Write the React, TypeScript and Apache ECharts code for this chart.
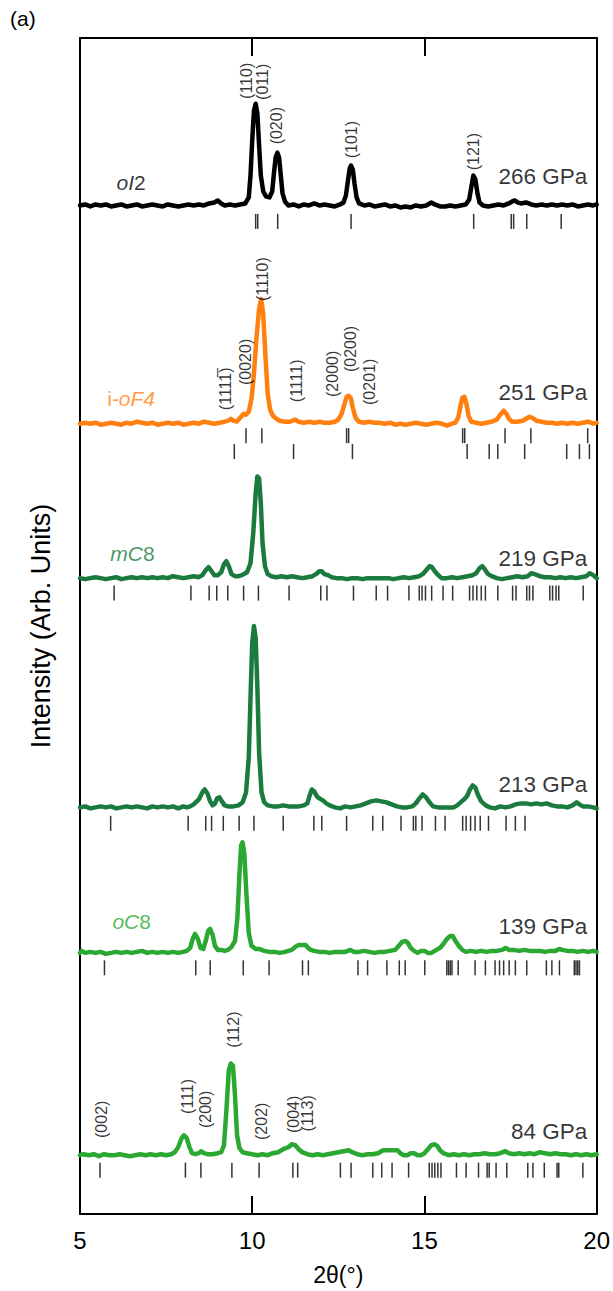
import React, { useEffect, useRef } from "react";
import * as echarts from "echarts";

// ---------- data ----------
// intensity traces: [2theta, intensity above own baseline]
const oI2_266: number[][] = [
  [5.0,0],[5.15,1],[5.3,-1],[5.45,1],[5.6,0],[5.75,1],[5.9,-1],[6.05,0],[6.2,1],[6.35,-1],[6.5,0],[6.65,1],[6.8,-1],[6.95,0],[7.1,1],[7.25,0],[7.4,-1],[7.55,1],[7.7,0],[7.85,-1],[8.0,0],[8.15,1],[8.3,0],[8.45,1],[8.6,0],[8.75,2],[8.9,3],[9.0,5],[9.1,2],[9.2,0],[9.35,1],[9.5,0],[9.65,1],[9.8,2],[9.9,8],[9.95,30],[10.0,65],[10.05,95],[10.1,102],[10.15,92],[10.2,60],[10.25,30],[10.32,14],[10.4,9],[10.5,8],[10.58,14],[10.63,32],[10.68,48],[10.73,53],[10.78,48],[10.83,30],[10.88,12],[10.95,4],[11.05,0],[11.2,1],[11.35,-1],[11.5,1],[11.65,0],[11.8,2],[11.95,0],[12.1,1],[12.25,0],[12.4,-1],[12.55,1],[12.65,3],[12.72,10],[12.78,25],[12.83,37],[12.87,40],[12.92,36],[12.97,22],[13.03,8],[13.1,2],[13.25,0],[13.4,1],[13.55,-1],[13.7,0],[13.85,1],[14.0,-1],[14.15,0],[14.3,-2],[14.45,-1],[14.6,-2],[14.75,0],[14.9,-1],[15.05,0],[15.15,2],[15.2,3],[15.3,1],[15.45,-1],[15.6,-1],[15.75,0],[15.9,-1],[16.05,0],[16.2,1],[16.3,6],[16.36,18],[16.42,30],[16.48,26],[16.54,12],[16.6,3],[16.7,0],[16.85,-1],[17.0,0],[17.15,1],[17.3,0],[17.45,2],[17.55,4],[17.62,5],[17.7,3],[17.8,2],[17.95,3],[18.1,1],[18.25,0],[18.4,1],[18.55,0],[18.7,1],[18.85,0],[19.0,1],[19.15,0],[19.3,1],[19.45,-1],[19.6,0],[19.75,1],[19.9,0],[20.0,1],
];
const ioF4_251: number[][] = [
  [5.0,0],[5.15,1],[5.3,0],[5.45,1],[5.6,-1],[5.75,0],[5.9,1],[6.05,0],[6.2,-1],[6.35,1],[6.5,0],[6.65,2],[6.8,1],[6.95,0],[7.1,1],[7.25,-1],[7.4,0],[7.55,1],[7.7,0],[7.85,1],[8.0,-1],[8.15,0],[8.3,1],[8.45,0],[8.6,2],[8.75,1],[8.9,0],[9.05,1],[9.2,2],[9.3,3],[9.38,5],[9.45,3],[9.55,2],[9.65,6],[9.75,10],[9.82,9],[9.9,12],[9.98,25],[10.05,50],[10.12,85],[10.2,115],[10.26,125],[10.32,110],[10.38,70],[10.45,30],[10.52,14],[10.6,8],[10.7,5],[10.8,3],[10.95,2],[11.1,2],[11.25,4],[11.35,2],[11.5,1],[11.65,2],[11.8,1],[11.95,2],[12.1,1],[12.25,1],[12.4,2],[12.5,4],[12.6,10],[12.68,20],[12.74,27],[12.8,28],[12.86,26],[12.92,16],[13.0,6],[13.1,2],[13.25,1],[13.4,2],[13.55,1],[13.7,1],[13.85,0],[14.0,1],[14.15,-1],[14.3,0],[14.45,-1],[14.6,0],[14.75,1],[14.9,0],[15.05,-1],[15.2,0],[15.35,1],[15.5,0],[15.65,-2],[15.8,0],[15.9,1],[15.98,6],[16.05,18],[16.1,26],[16.16,27],[16.22,20],[16.28,8],[16.36,2],[16.5,1],[16.65,0],[16.8,1],[16.95,2],[17.1,4],[17.2,9],[17.3,13],[17.38,10],[17.45,5],[17.55,2],[17.7,2],[17.85,3],[17.95,5],[18.05,7],[18.12,6],[18.25,3],[18.4,2],[18.55,1],[18.7,1],[18.85,0],[19.0,1],[19.15,0],[19.3,1],[19.45,0],[19.6,1],[19.75,2],[19.9,0],[20.0,1],
];
const mC8_219: number[][] = [
  [5.0,0],[5.15,-1],[5.3,0],[5.45,1],[5.6,0],[5.75,-1],[5.9,0],[6.05,1],[6.2,-1],[6.35,0],[6.5,1],[6.65,0],[6.8,1],[6.95,0],[7.1,1],[7.25,0],[7.4,1],[7.55,0],[7.7,2],[7.85,1],[8.0,0],[8.15,1],[8.3,2],[8.45,1],[8.55,3],[8.65,8],[8.73,11],[8.8,8],[8.9,3],[9.0,3],[9.1,6],[9.18,14],[9.25,17],[9.32,12],[9.4,4],[9.5,2],[9.6,2],[9.7,3],[9.85,6],[9.95,15],[10.03,45],[10.1,85],[10.15,102],[10.2,100],[10.25,75],[10.3,35],[10.37,12],[10.45,4],[10.55,2],[10.7,1],[10.85,2],[11.0,1],[11.15,2],[11.3,1],[11.45,0],[11.6,1],[11.75,2],[11.85,4],[11.95,7],[12.02,7],[12.1,4],[12.2,3],[12.3,1],[12.45,0],[12.6,0],[12.75,-1],[12.9,0],[13.05,0],[13.2,-1],[13.35,0],[13.5,0],[13.65,0],[13.8,0],[13.95,0],[14.1,-1],[14.25,0],[14.4,1],[14.55,0],[14.7,1],[14.85,2],[14.95,4],[15.05,8],[15.15,12],[15.22,11],[15.3,7],[15.4,3],[15.5,0],[15.65,0],[15.8,1],[15.95,0],[16.1,1],[16.25,2],[16.4,3],[16.5,5],[16.6,10],[16.68,12],[16.75,9],[16.85,4],[16.95,2],[17.1,0],[17.25,-1],[17.4,0],[17.55,1],[17.7,2],[17.85,1],[18.0,2],[18.1,5],[18.2,4],[18.35,2],[18.5,1],[18.65,1],[18.8,0],[18.95,1],[19.1,0],[19.25,1],[19.4,0],[19.55,1],[19.7,2],[19.8,5],[19.9,3],[20.0,0],
];
const mC8_213: number[][] = [
  [5.0,0],[5.15,1],[5.3,-1],[5.45,0],[5.6,1],[5.75,0],[5.9,1],[6.05,-1],[6.2,0],[6.35,1],[6.5,0],[6.65,1],[6.8,0],[6.95,-1],[7.1,1],[7.25,0],[7.4,1],[7.55,0],[7.7,1],[7.85,-1],[8.0,1],[8.1,0],[8.2,1],[8.3,3],[8.45,8],[8.55,15],[8.62,18],[8.7,14],[8.78,6],[8.85,2],[8.92,4],[8.98,9],[9.05,10],[9.12,6],[9.2,2],[9.3,1],[9.45,1],[9.6,2],[9.72,5],[9.82,15],[9.9,50],[9.95,110],[10.0,165],[10.05,182],[10.1,170],[10.15,120],[10.2,55],[10.27,15],[10.35,5],[10.45,2],[10.6,1],[10.75,1],[10.9,2],[11.05,1],[11.2,1],[11.35,1],[11.5,2],[11.6,4],[11.67,12],[11.73,18],[11.8,16],[11.88,11],[11.95,9],[12.05,7],[12.15,4],[12.25,2],[12.4,0],[12.55,-1],[12.7,1],[12.85,0],[13.0,1],[13.15,2],[13.3,4],[13.45,6],[13.6,7],[13.75,6],[13.9,5],[14.05,3],[14.2,1],[14.35,0],[14.5,0],[14.65,1],[14.75,4],[14.85,9],[14.95,13],[15.05,10],[15.15,5],[15.25,1],[15.4,0],[15.55,0],[15.7,0],[15.85,0],[15.95,2],[16.05,5],[16.15,8],[16.25,12],[16.32,18],[16.4,22],[16.48,20],[16.55,13],[16.65,6],[16.78,2],[16.9,0],[17.05,-1],[17.2,1],[17.35,0],[17.5,1],[17.65,3],[17.8,4],[17.95,4],[18.1,3],[18.25,4],[18.4,3],[18.55,4],[18.7,2],[18.85,1],[19.0,1],[19.15,0],[19.3,2],[19.42,5],[19.5,3],[19.6,1],[19.75,1],[19.9,0],[20.0,-1],
];
const oC8_139: number[][] = [
  [5.0,0],[5.05,2],[5.15,0],[5.3,1],[5.45,0],[5.6,1],[5.75,-1],[5.9,0],[6.05,1],[6.2,0],[6.35,1],[6.5,0],[6.65,1],[6.8,2],[6.95,0],[7.1,1],[7.25,0],[7.4,1],[7.55,0],[7.7,1],[7.85,0],[8.0,1],[8.1,2],[8.2,5],[8.28,15],[8.34,19],[8.42,14],[8.5,5],[8.58,4],[8.65,12],[8.72,22],[8.78,24],[8.85,18],[8.92,7],[9.0,3],[9.1,3],[9.2,2],[9.3,3],[9.4,6],[9.5,12],[9.57,35],[9.63,80],[9.68,108],[9.72,111],[9.77,100],[9.83,60],[9.9,20],[9.98,7],[10.1,4],[10.2,4],[10.35,2],[10.5,1],[10.65,1],[10.8,0],[10.95,1],[11.05,2],[11.15,3],[11.25,6],[11.35,8],[11.45,8],[11.55,8],[11.62,5],[11.7,3],[11.8,2],[11.95,1],[12.1,1],[12.25,0],[12.4,1],[12.55,1],[12.7,1],[12.85,3],[12.95,1],[13.1,1],[13.25,2],[13.4,1],[13.55,0],[13.7,1],[13.85,1],[14.0,2],[14.15,3],[14.25,7],[14.35,11],[14.45,12],[14.52,10],[14.6,5],[14.7,2],[14.8,0],[14.9,2],[15.0,2],[15.1,0],[15.2,0],[15.3,2],[15.45,5],[15.55,9],[15.65,14],[15.75,17],[15.82,17],[15.9,12],[16.0,7],[16.1,3],[16.2,1],[16.35,2],[16.5,1],[16.65,2],[16.8,1],[16.95,2],[17.1,2],[17.25,3],[17.36,5],[17.45,3],[17.6,3],[17.75,2],[17.9,3],[18.05,2],[18.2,2],[18.35,2],[18.5,1],[18.65,2],[18.8,2],[18.92,4],[19.0,3],[19.15,2],[19.3,2],[19.45,1],[19.6,2],[19.75,1],[19.9,2],[20.0,1],
];
const oC8_84: number[][] = [
  [5.0,0],[5.1,1],[5.25,0],[5.4,1],[5.55,-1],[5.7,1],[5.85,0],[6.0,0],[6.15,1],[6.3,0],[6.45,-1],[6.6,0],[6.75,1],[6.9,0],[7.05,1],[7.2,0],[7.35,1],[7.5,0],[7.65,1],[7.75,3],[7.85,8],[7.95,17],[8.02,20],[8.1,17],[8.18,8],[8.25,2],[8.35,1],[8.45,2],[8.52,4],[8.6,2],[8.7,1],[8.85,1],[9.0,2],[9.1,3],[9.18,10],[9.25,45],[9.32,85],[9.38,92],[9.44,90],[9.5,60],[9.56,20],[9.63,7],[9.72,3],[9.85,2],[10.0,1],[10.15,0],[10.3,1],[10.45,0],[10.6,2],[10.75,3],[10.9,6],[11.05,8],[11.15,11],[11.25,10],[11.35,6],[11.45,3],[11.6,1],[11.75,0],[11.9,1],[12.05,0],[12.2,1],[12.35,2],[12.5,3],[12.65,4],[12.8,5],[12.9,3],[13.05,1],[13.2,0],[13.35,1],[13.5,1],[13.65,2],[13.8,5],[13.95,5],[14.1,5],[14.22,5],[14.3,2],[14.4,0],[14.5,0],[14.6,2],[14.7,2],[14.8,0],[14.9,0],[15.0,2],[15.1,6],[15.2,10],[15.3,11],[15.38,9],[15.45,5],[15.55,2],[15.7,0],[15.85,1],[16.0,0],[16.15,1],[16.3,0],[16.45,1],[16.6,1],[16.75,2],[16.9,1],[17.05,1],[17.2,2],[17.35,4],[17.45,2],[17.6,1],[17.75,2],[17.9,1],[18.05,2],[18.2,1],[18.35,3],[18.5,2],[18.65,1],[18.8,2],[18.95,1],[19.1,1],[19.25,0],[19.4,1],[19.55,0],[19.7,1],[19.85,0],[20.0,1],
];

// baselines (vertical offsets) of the stacked patterns
const offsets = [1012, 793, 638, 408, 262, 59];
const traces = [oI2_266, ioF4_251, mC8_219, mC8_213, oC8_139, oC8_84];
const colors = ["#000000", "#ff7f0f", "#1b7b3f", "#1b7b3f", "#2aa832", "#2aa832"];

// reflection markers (2theta); rows: [positions, pattern index, depth below baseline]
const refl_oI2 = [10.10, 10.16, 10.74, 12.87, 16.43, 17.52, 17.59, 17.97, 18.97];
const refl_ioF4_a = [9.82, 10.28, 12.74, 12.80, 16.11, 16.17, 17.34, 18.09, 19.74];
const refl_ioF4_b = [9.48, 11.20, 12.91, 16.24, 16.88, 17.13, 17.91, 19.13, 19.50, 19.79];
const refl_mC8_219 = [5.99, 8.22, 8.75, 8.97, 9.29, 9.75, 10.18, 11.07, 11.99, 12.17, 12.94, 13.60, 13.93, 14.55, 14.85, 14.93, 15.03, 15.21, 15.54, 15.82, 16.31, 16.41, 16.52, 16.65, 16.77, 17.13, 17.56, 17.66, 17.97, 18.05, 18.15, 18.64, 18.72, 18.82, 18.90, 19.61];
const refl_mC8_213 = [5.89, 8.14, 8.65, 8.82, 9.16, 9.62, 10.05, 10.90, 11.79, 12.02, 12.74, 13.50, 13.79, 14.32, 14.68, 14.75, 14.93, 15.32, 15.60, 16.11, 16.21, 16.34, 16.47, 16.62, 16.86, 17.37, 17.64, 17.92];
const refl_oC8_139 = [5.71, 8.36, 8.78, 9.74, 10.49, 11.46, 11.63, 13.07, 13.35, 13.91, 14.27, 14.44, 15.01, 15.65, 15.70, 15.75, 15.80, 15.98, 16.47, 16.77, 17.05, 17.18, 17.30, 17.46, 17.64, 17.97, 18.54, 18.70, 18.92, 19.35, 19.40, 19.45, 19.50];
const refl_oC8_84 = [5.58, 8.06, 8.51, 9.41, 10.20, 11.18, 11.32, 12.56, 12.87, 13.50, 13.76, 14.06, 14.54, 15.14, 15.22, 15.30, 15.39, 15.48, 15.93, 16.21, 16.57, 16.82, 16.88, 17.08, 17.39, 18.00, 18.15, 18.48, 18.85, 18.90, 19.60];
const reflRows: [number[], number, number][] = [
  [refl_oI2, 0, 16],
  [refl_ioF4_a, 1, 12],
  [refl_ioF4_b, 1, 28],
  [refl_mC8_219, 2, 15],
  [refl_mC8_213, 3, 16],
  [refl_oC8_139, 4, 15],
  [refl_oC8_84, 5, 15],
];

// Miller index labels: [text, 2theta, height]
const hkl_oI2: [string, number, number][] = [
  ["(110)", 9.82, 1137], ["(011)", 10.31, 1136], ["(020)", 10.70, 1092], ["(101)", 12.89, 1078], ["(121)", 16.43, 1066],
];
const hkl_ioF4: [string, number, number][] = [
  ["(111" + "1\u0305" + ")", 9.21, 828], ["(0020)", 9.80, 855], ["(1110)", 10.30, 938], ["(1111)", 11.28, 836],
  ["(2000)", 12.33, 843], ["(0200)", 12.84, 868], ["(0201)", 13.40, 835],
];
const hkl_oC8_84: [string, number, number][] = [
  ["(002)", 5.62, 95], ["(111)", 8.11, 118], ["(200)", 8.64, 105], ["(112)", 9.46, 185],
  ["(202)", 10.26, 93], ["(004)", 11.20, 100], ["(113)", 11.61, 101],
];
const pressures = ["266 GPa", "251 GPa", "219 GPa", "213 GPa", "139 GPa", "84 GPa"];
const pressureY = [1041, 824, 658, 431, 288, 83];
const phaseNames = ["{i|oI}{n|2}", "{n|i-}{i|oF4}", "{i|mC}{n|8}", "{i|oC}{n|8}"];
const phaseX = [6.06, 5.79, 5.88, 5.94];
const phaseY = [1035, 818, 663, 293];
const phaseColors = ["#000000", "#ff7f0f", "#1b7b3f", "#2aa832"];

const xTicks = [5, 10, 15, 20];

const FONT = "'Liberation Sans', Arial, Helvetica, sans-serif";

export default function App() {
  const ref = useRef<HTMLDivElement>(null);
  useEffect(() => {
    if (!ref.current) return;
    const chart = echarts.init(ref.current, undefined, { renderer: "svg" });

    const series: any[] = [];
    traces.forEach((tr, i) => {
      series.push({
        type: "line",
        data: tr.map(([x, y]) => [x, y + offsets[i]]),
        showSymbol: false,
        symbol: "none",
        lineStyle: { color: colors[i], width: 4.5, join: "round", cap: "round" },
        z: 3,
        silent: true,
      });
    });
    reflRows.forEach(([xs, idx, d]) => {
      series.push({
        type: "scatter",
        data: xs.map((x) => [x, offsets[idx] - d]),
        symbol: "rect",
        symbolSize: [1.5, 15],
        itemStyle: { color: "#000" },
        silent: true,
        z: 2,
      });
    });
    const hklLabels = (arr: [string, number, number][]) =>
      arr.map(([t, x, y]) => ({
        value: [x, y],
        label: {
          show: true,
          formatter: t,
          rotate: 90,
          position: [0, 0],
          align: "center",
          verticalAlign: "middle",
          fontSize: 16,
          fontFamily: FONT,
          color: "#000",
        },
      }));
    series.push({
      type: "scatter",
      symbolSize: 0,
      silent: true,
      z: 5,
      data: [...hklLabels(hkl_oI2), ...hklLabels(hkl_ioF4), ...hklLabels(hkl_oC8_84)],
    });
    series.push({
      type: "scatter",
      symbolSize: 0,
      silent: true,
      z: 5,
      data: pressures.map((p, i) => ({
        value: [19.73, pressureY[i]],
        label: {
          show: true,
          formatter: p,
          position: [0, 0],
          align: "right",
          verticalAlign: "middle",
          fontSize: 22.5,
          fontFamily: FONT,
          color: "#000",
        },
      })),
    });
    series.push({
      type: "scatter",
      symbolSize: 0,
      silent: true,
      z: 5,
      data: phaseNames.map((p, i) => ({
        value: [phaseX[i], phaseY[i]],
        label: {
          show: true,
          formatter: p,
          position: [0, 0],
          align: "left",
          verticalAlign: "middle",
          rich: {
            i: { fontSize: 21, fontStyle: "italic", fontFamily: FONT, color: phaseColors[i] },
            n: { fontSize: 21, fontFamily: FONT, color: phaseColors[i] },
          },
        },
      })),
    });

    const baseX = {
      type: "value",
      min: xTicks[0],
      max: xTicks[xTicks.length - 1],
      interval: 5,
      splitLine: { show: false },
      axisLine: { show: true, onZero: false, lineStyle: { color: "#000", width: 2 } },
      axisTick: { show: true, inside: true, length: 18, lineStyle: { color: "#000", width: 2 } },
    };
    chart.setOption({
      animation: false,
      grid: { left: 80, right: 16, top: 38, bottom: 73 },
      graphic: [
        { type: "text", left: 10, top: 8, style: { text: "(a)", fontSize: 21, fontFamily: FONT, fill: "#000" } },
      ],
      xAxis: [
        {
          ...baseX,
          position: "bottom",
          axisLabel: { fontSize: 24, fontFamily: FONT, color: "#000", margin: 14 },
          name: "2θ(°)",
          nameLocation: "middle",
          nameGap: 49,
          nameTextStyle: { fontSize: 23, fontFamily: FONT, color: "#000" },
        },
        { ...baseX, position: "top", axisLabel: { show: false } },
      ],
      yAxis: [
        {
          type: "value",
          min: 0,
          max: 1180,
          position: "left",
          splitLine: { show: false },
          axisLine: { show: true, lineStyle: { color: "#000", width: 2 } },
          axisTick: { show: false },
          axisLabel: { show: false },
          name: "Intensity (Arb. Units)",
          nameLocation: "middle",
          nameGap: 26,
          nameTextStyle: { fontSize: 27, fontFamily: FONT, color: "#000" },
        },
        {
          type: "value",
          min: 0,
          max: 1180,
          position: "right",
          splitLine: { show: false },
          axisLine: { show: true, lineStyle: { color: "#000", width: 2 } },
          axisTick: { show: false },
          axisLabel: { show: false },
        },
      ],
      series,
    });
    return () => chart.dispose();
  }, []);
  return (
    <div
      ref={ref}
      style={{ position: "fixed", left: 0, top: 0, width: 613, height: 1291, background: "#fff" }}
    />
  );
}
